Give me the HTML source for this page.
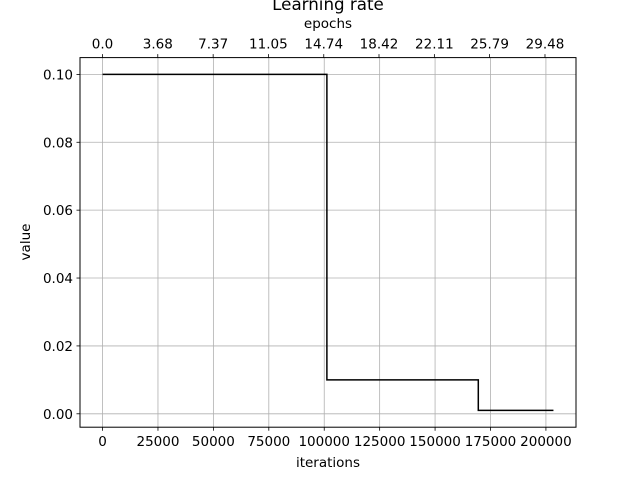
<!DOCTYPE html>
<html><head><meta charset="utf-8"><style>
body{margin:0;background:#fff;}
text{font-family:"DejaVu Sans","Liberation Sans",sans-serif;fill:#000;}
</style></head><body>
<svg id="chart" width="640" height="480" xmlns="http://www.w3.org/2000/svg">
<rect width="640" height="480" fill="#fff"/>
<g id="grid"></g>
<g id="series"></g>
<rect x="80" y="57.6" width="496" height="369.6" fill="none" stroke="#000" stroke-width="1"/>
<g id="axes"></g>
<text x="328" y="10" font-size="16.7" text-anchor="middle">Learning rate</text>
<text x="328" y="28" font-size="13.5" text-anchor="middle">epochs</text>
<text x="328" y="467" font-size="13.5" text-anchor="middle">iterations</text>
<text x="30" y="242" font-size="13.5" text-anchor="middle" transform="rotate(-90 30 242)">value</text>
</svg>
<script>
const iterations=[0,101200,101200,169500,169500,203400];
const lrValues=[0.1,0.1,0.01,0.01,0.001,0.001];
const xTicks=[0,25000,50000,75000,100000,125000,150000,175000,200000];
const yTicks=[0,0.02,0.04,0.06,0.08,0.1];
const yTickLabels=["0.00","0.02","0.04","0.06","0.08","0.10"];
const epochTicks=[0,3.68,7.37,11.05,14.74,18.42,22.11,25.79,29.48];
const itersPerEpoch=6770;
const L=80,R=576,T=57.6,B=427.2;
const xmin=0,xmax=203400,ymin=0.001,ymax=0.1;
const xs=(xmax-xmin)*0.05, ys=(ymax-ymin)*0.05;
function X(v){return L+(v-(xmin-xs))/((xmax+xs)-(xmin-xs))*(R-L);}
function Y(v){return B-(v-(ymin-ys))/((ymax+ys)-(ymin-ys))*(B-T);}
const NS="http://www.w3.org/2000/svg";
function mk(tag,attrs,parent,txt){const e=document.createElementNS(NS,tag);for(const k in attrs)e.setAttribute(k,attrs[k]);if(txt!==undefined)e.textContent=txt;parent.appendChild(e);return e;}
const grid=document.getElementById('grid'),axes=document.getElementById('axes'),series=document.getElementById('series');
xTicks.forEach(t=>{const x=X(t);
 const g=mk('line',{x1:x,x2:x,y1:T,y2:B,stroke:'#b0b0b0','stroke-width':0.8},grid);
 
 
 const k=mk('line',{x1:x,x2:x,y1:B,y2:B+3.5,stroke:'#000','stroke-width':0.8},axes);
 
 
 const l=mk('text',{x:x,y:B+19,'font-size':13.5,'text-anchor':'middle'},axes,String(t));
 
 
});
yTicks.forEach((t,i)=>{const y=Y(t);
 const g=mk('line',{x1:L,x2:R,y1:y,y2:y,stroke:'#b0b0b0','stroke-width':0.8},grid);
 
 
 const k=mk('line',{x1:L-3.5,x2:L,y1:y,y2:y,stroke:'#000','stroke-width':0.8},axes);
 
 
 const l=mk('text',{x:L-7,y:y+5,'font-size':13.5,'text-anchor':'end'},axes,yTickLabels[i]);
 
 
});
epochTicks.forEach(t=>{const x=X(t*itersPerEpoch);
 const k=mk('line',{x1:x,x2:x,y1:T-3.5,y2:T,stroke:'#000','stroke-width':0.8},axes);
 
 
 const l=mk('text',{x:x,y:T-9,'font-size':13.5,'text-anchor':'middle'},axes,t.toFixed(t===0?1:2));
 
 
});
const pts=iterations.map((v,i)=>X(v).toFixed(2)+','+Y(lrValues[i]).toFixed(2)).join(' ');
const line=mk('polyline',{points:pts,fill:'none',stroke:'#000','stroke-width':1.5},series);


</script>
</body></html>
